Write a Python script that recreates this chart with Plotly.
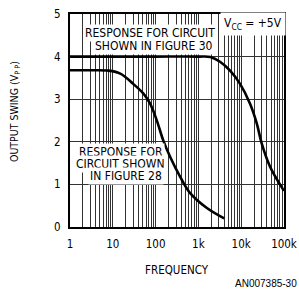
import plotly.graph_objects as go

# Data
freq_fig30 = [1, 10, 100, 1000, 1900, 3200, 5500, 9400, 16000, 23000, 30000, 47000, 70000, 100000]
vout_fig30 = [4.0, 4.0, 4.0, 4.0, 3.99, 3.88, 3.67, 3.36, 2.9, 2.44, 1.97, 1.42, 1.1, 0.85]

freq_fig28 = [1, 3, 8, 15, 30, 52, 74, 106, 150, 218, 370, 635, 1550, 4000]
vout_fig28 = [3.68, 3.68, 3.67, 3.6, 3.36, 3.13, 2.9, 2.51, 2.04, 1.65, 1.19, 0.8, 0.45, 0.2]

x_tickvals = [1, 10, 100, 1000, 10000, 100000]
x_ticktext = ["1", "10", "100", "1k", "10k", "100k"]
y_tickvals = [0, 1, 2, 3, 4, 5]

label_fig30 = ["RESPONSE FOR CIRCUIT", "SHOWN IN FIGURE 30"]
label_fig28 = ["RESPONSE FOR", "CIRCUIT SHOWN", "IN FIGURE 28"]

FONT = "DejaVu Sans Condensed, Liberation Sans Narrow, DejaVu Sans, sans-serif"

L, R, T, B = 70, 15, 14, 62
W, H = 299, 289
PW, PH = W - L - R, H - T - B


def px_to_paper(px, py):
    return (px - L) / PW, (H - B - py) / PH


fig = go.Figure()
fig.add_trace(go.Scatter(x=freq_fig30, y=vout_fig30, mode="lines",
                         line=dict(color="black", width=2.6, shape="spline", smoothing=1.0),
                         hoverinfo="skip", showlegend=False))
fig.add_trace(go.Scatter(x=freq_fig28, y=vout_fig28, mode="lines",
                         line=dict(color="black", width=2.6, shape="spline", smoothing=1.0),
                         hoverinfo="skip", showlegend=False))

fig.update_layout(
    width=W, height=H,
    margin=dict(l=L, r=R, t=T, b=B, autoexpand=False),
    paper_bgcolor="white", plot_bgcolor="white",
    font=dict(family=FONT, size=11.5, color="black"),
    xaxis=dict(type="log", range=[0, 5], tickvals=x_tickvals, ticktext=x_ticktext,
               automargin=False,
               showgrid=True, gridcolor="#333333", gridwidth=1,
               minor=dict(dtick="D1", showgrid=True, gridcolor="#333333", gridwidth=1, ticks=""),
               showline=True, linecolor="black", linewidth=2, mirror=True,
               ticks="", ticklabelstandoff=5, zeroline=False, fixedrange=True),
    yaxis=dict(range=[0, 5], tickvals=y_tickvals, automargin=False,
               showgrid=True, gridcolor="#333333", gridwidth=1,
               showline=True, linecolor="black", linewidth=2, mirror=True,
               ticks="", ticklabelstandoff=5, zeroline=False, fixedrange=True),
)


def add_text(text, px, py, size, bg=None, pad=1, angle=0, xanchor="center", family=None):
    x, y = px_to_paper(px, py)
    f = dict(size=size)
    if family:
        f["family"] = family
    fig.add_annotation(text=text, x=x, y=y, xref="paper", yref="paper",
                       xanchor=xanchor, yanchor="middle", showarrow=False,
                       bgcolor=bg if bg else "rgba(0,0,0,0)", borderpad=pad,
                       textangle=angle, font=f)


# Label for figure 30 response
add_text(label_fig30[0], 149.5, 33, 12, bg="white", pad=1)
add_text(label_fig30[1], 154, 45.5, 12, bg="white", pad=1)

# Label for figure 28 response
add_text(label_fig28[0], 120.5, 152, 12, bg="white", pad=1)
add_text(label_fig28[1], 120, 164, 12, bg="white", pad=1)
add_text(label_fig28[2], 125.5, 176, 12, bg="white", pad=1)

# Supply voltage box
add_text("V<sub>CC</sub> = +5V", 253, 24, 12, bg="white", pad=3)

# Axis titles
add_text("FREQUENCY", 177, 270, 11.5)
add_text("OUTPUT SWING (V<sub>P P</sub>)", 15, 112, 10.5, angle=-90)

# Figure code
x_code, y_code = px_to_paper(299, 283)
fig.add_annotation(text="AN007385-30", x=x_code, y=y_code, xref="paper", yref="paper",
                   xanchor="right", yanchor="middle", showarrow=False,
                   font=dict(family="Liberation Sans, Arial, sans-serif", size=10))

fig.write_html("out.html", config={"displayModeBar": False},
               post_script="document.body.style.margin='0';document.body.style.overflow='hidden';")
